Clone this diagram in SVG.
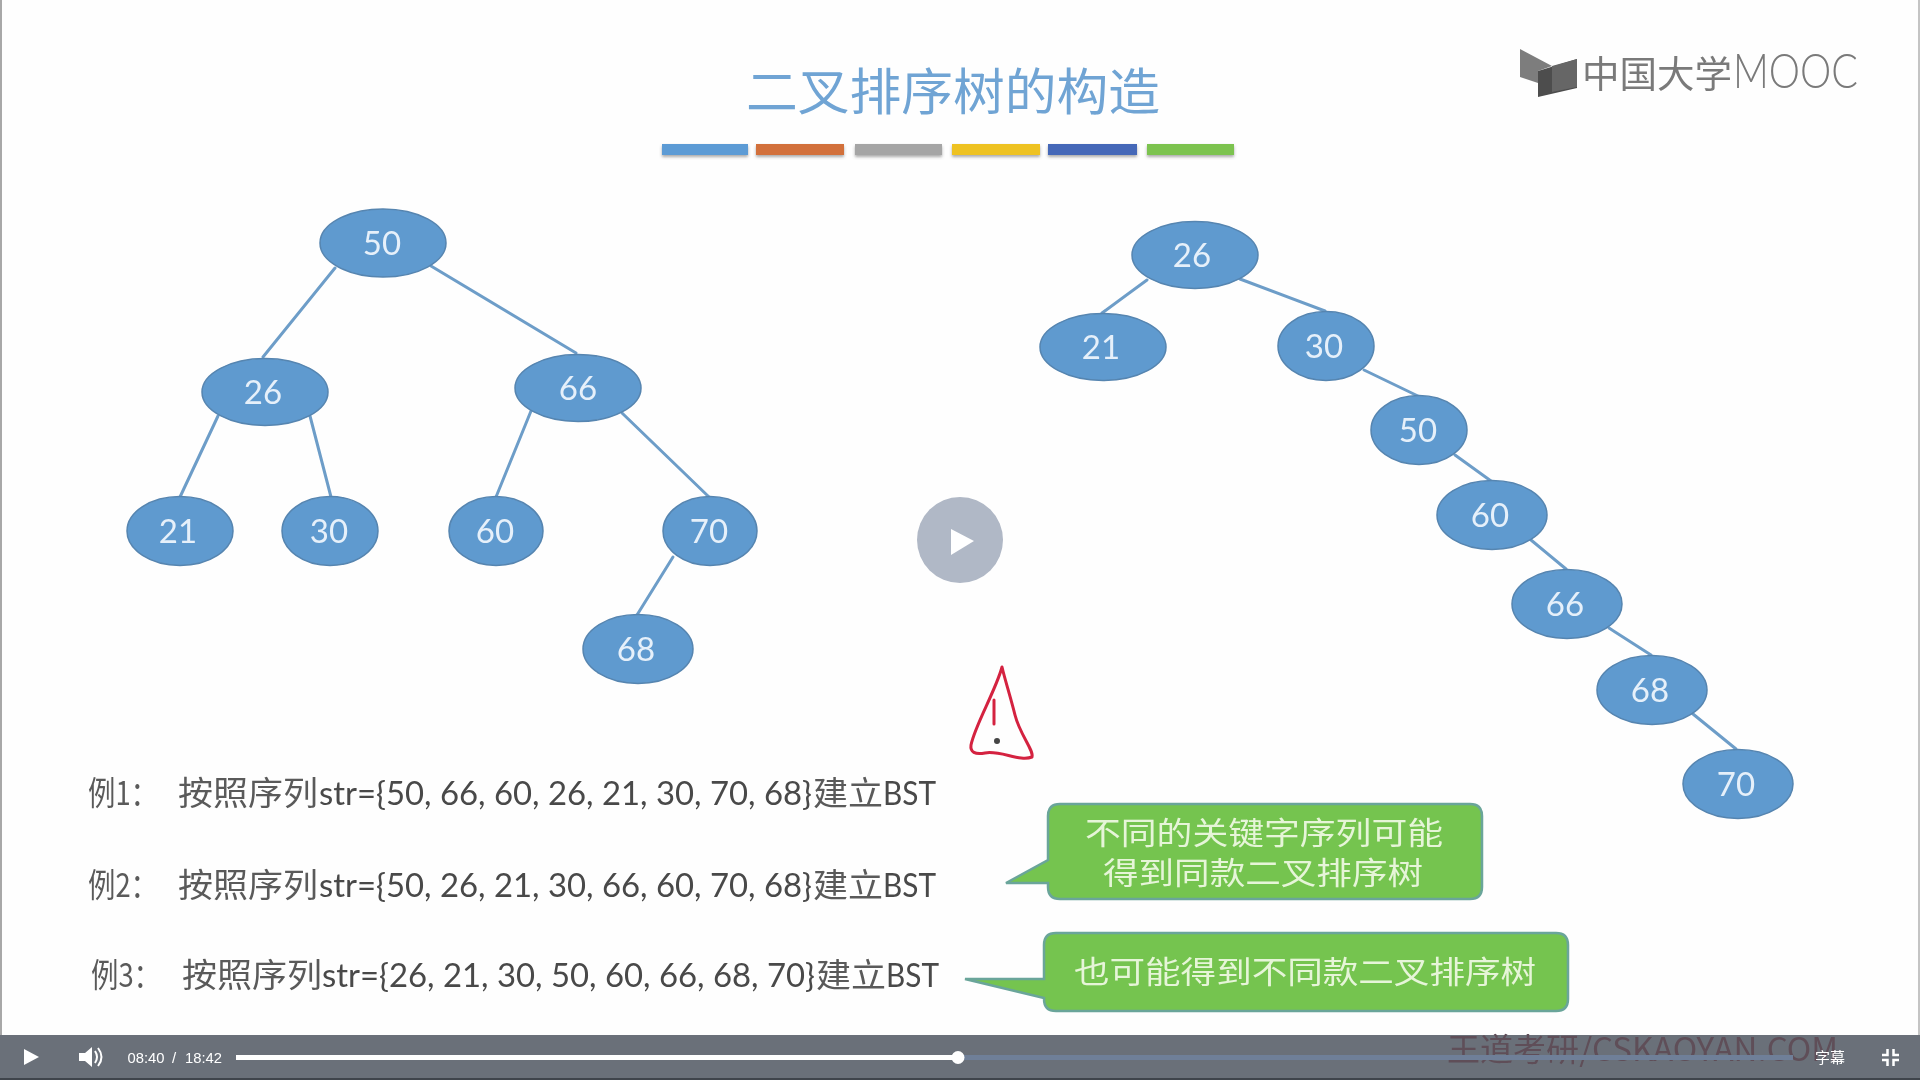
<svg xmlns="http://www.w3.org/2000/svg" width="1920" height="1080" viewBox="0 0 1920 1080">
<style>
.n ellipse{fill:#5f9acf;stroke:#5685b0;stroke-width:1.500}
.n text{font-family:"Lato","Noto Sans",sans-serif;font-size:33px;fill:#e6f0fa;text-anchor:middle}
#connectors line{stroke:#6d9dc8;stroke-width:3;stroke-linecap:round}
.ex{font-family:"Lato","Noto Sans CJK SC",sans-serif;font-size:32px;fill:#484848}
.cjk{font-family:"Noto Sans CJK SC",sans-serif;font-size:33px;fill:#5a5a5a}
.co path{fill:#75c44f;stroke:#6aa59a;stroke-width:2.500}
.co text{font-family:"Noto Sans CJK SC",sans-serif;font-size:31px;fill:#e6f5d8}
.pt{font-family:"Liberation Sans",sans-serif;font-size:15px;fill:#ffffff}
</style>
<defs>
<filter id="soft" x="-2%" y="-2%" width="104%" height="104%"><feGaussianBlur stdDeviation="0.6"/></filter>
<filter id="sh" x="-5%" y="-30%" width="110%" height="180%"><feDropShadow dx="0" dy="2" stdDeviation="1.500" flood-color="#555555" flood-opacity="0.5"/></filter>
</defs>
<rect width="1920" height="1080" fill="#fefefe"/>
<g filter="url(#soft)">
<text id="title" x="746" y="110" textLength="414" lengthAdjust="spacingAndGlyphs" font-family="Noto Sans CJK SC, sans-serif" font-size="50" fill="#6fa4d4">二叉排序树的构造</text>
<g id="rule" filter="url(#sh)">
<rect x="662" y="144" width="86" height="11" fill="#5b9bd5"/>
<rect x="756" y="144" width="88" height="11" fill="#d2703a"/>
<rect x="855" y="144" width="87" height="11" fill="#a5a5a5"/>
<rect x="952" y="144" width="88" height="11" fill="#eec224"/>
<rect x="1048" y="144" width="89" height="11" fill="#4468b8"/>
<rect x="1147" y="144" width="87" height="11" fill="#7cc34f"/>
</g>
<g id="logo">
<path d="M1520 49 L1552 66 L1538 71 V83 L1520 77Z" fill="#7d7d7d"/>
<path d="M1538 71 L1577 59 V88 L1538 97Z" fill="#4d4d4d"/>
<path d="M1552 66 L1577 59 V87 L1552 92Z" fill="#666666"/>
<text y="88" fill="#7a7a7a"><tspan x="1582" textLength="150" lengthAdjust="spacingAndGlyphs" font-family="Noto Sans CJK SC, sans-serif" font-size="37">中国大学</tspan><tspan x="1733" textLength="125" lengthAdjust="spacingAndGlyphs" font-family="Lato, Noto Sans, sans-serif" font-weight="300" font-size="47">MOOC</tspan></text>
</g>
<g id="connectors">
<line x1="335" y1="268" x2="263" y2="357"/>
<line x1="431" y1="266" x2="576" y2="353"/>
<line x1="218" y1="416" x2="180" y2="497"/>
<line x1="310" y1="416" x2="331" y2="497"/>
<line x1="531" y1="411" x2="496" y2="497"/>
<line x1="622" y1="413" x2="709" y2="497"/>
<line x1="673" y1="557" x2="637" y2="615"/>
<line x1="1147" y1="280" x2="1102" y2="313"/>
<line x1="1240" y1="279" x2="1325" y2="311"/>
<line x1="1364" y1="370" x2="1420" y2="397"/>
<line x1="1455" y1="455" x2="1491" y2="481"/>
<line x1="1531" y1="540" x2="1566" y2="569"/>
<line x1="1609" y1="628" x2="1651" y2="655"/>
<line x1="1693" y1="714" x2="1736" y2="749"/>
</g>
<g id="a50" class="n"><ellipse cx="383" cy="243" rx="63" ry="34"/><text x="382" y="255">50</text></g>
<g id="a26" class="n"><ellipse cx="265" cy="392" rx="63" ry="33.500"/><text x="263" y="404">26</text></g>
<g id="a66" class="n"><ellipse cx="578" cy="388" rx="63" ry="33.500"/><text x="578" y="400">66</text></g>
<g id="a21" class="n"><ellipse cx="180" cy="531" rx="53" ry="34.500"/><text x="178" y="543">21</text></g>
<g id="a30" class="n"><ellipse cx="330" cy="531" rx="48" ry="34.500"/><text x="329" y="543">30</text></g>
<g id="a60" class="n"><ellipse cx="496" cy="531" rx="47" ry="34.500"/><text x="495" y="543">60</text></g>
<g id="a70" class="n"><ellipse cx="710" cy="531" rx="47" ry="34.500"/><text x="709" y="543">70</text></g>
<g id="a68" class="n"><ellipse cx="638" cy="649" rx="55" ry="34.500"/><text x="636" y="661">68</text></g>
<g id="b26" class="n"><ellipse cx="1195" cy="255" rx="63" ry="33.500"/><text x="1192" y="267">26</text></g>
<g id="b21" class="n"><ellipse cx="1103" cy="347" rx="63" ry="33.500"/><text x="1101" y="359">21</text></g>
<g id="b30" class="n"><ellipse cx="1326" cy="346" rx="48" ry="34.500"/><text x="1324" y="358">30</text></g>
<g id="b50" class="n"><ellipse cx="1419" cy="430" rx="48" ry="34.500"/><text x="1418" y="442">50</text></g>
<g id="b60" class="n"><ellipse cx="1492" cy="515" rx="55" ry="34.500"/><text x="1490" y="527">60</text></g>
<g id="b66" class="n"><ellipse cx="1567" cy="604" rx="55" ry="34.500"/><text x="1565" y="616">66</text></g>
<g id="b68" class="n"><ellipse cx="1652" cy="690" rx="55" ry="34.500"/><text x="1650" y="702">68</text></g>
<g id="b70" class="n"><ellipse cx="1738" cy="784" rx="55" ry="34.500"/><text x="1736" y="796">70</text></g>
<g id="examples">
<text class="ex" y="805"><tspan class="cjk" x="88" textLength="70" lengthAdjust="spacingAndGlyphs">例1：</tspan><tspan class="cjk" x="178" textLength="140" lengthAdjust="spacingAndGlyphs">按照序列</tspan><tspan x="319" textLength="493" lengthAdjust="spacingAndGlyphs">str={50, 66, 60, 26, 21, 30, 70, 68}</tspan><tspan class="cjk" x="813" textLength="70" lengthAdjust="spacingAndGlyphs">建立</tspan><tspan x="883" textLength="53" lengthAdjust="spacingAndGlyphs">BST</tspan></text>
<text class="ex" y="897"><tspan class="cjk" x="88" textLength="70" lengthAdjust="spacingAndGlyphs">例2：</tspan><tspan class="cjk" x="178" textLength="140" lengthAdjust="spacingAndGlyphs">按照序列</tspan><tspan x="319" textLength="493" lengthAdjust="spacingAndGlyphs">str={50, 26, 21, 30, 66, 60, 70, 68}</tspan><tspan class="cjk" x="813" textLength="70" lengthAdjust="spacingAndGlyphs">建立</tspan><tspan x="883" textLength="53" lengthAdjust="spacingAndGlyphs">BST</tspan></text>
<text class="ex" y="987"><tspan class="cjk" x="91" textLength="70" lengthAdjust="spacingAndGlyphs">例3：</tspan><tspan class="cjk" x="182" textLength="140" lengthAdjust="spacingAndGlyphs">按照序列</tspan><tspan x="322" textLength="493" lengthAdjust="spacingAndGlyphs">str={26, 21, 30, 50, 60, 66, 68, 70}</tspan><tspan class="cjk" x="816" textLength="70" lengthAdjust="spacingAndGlyphs">建立</tspan><tspan x="886" textLength="53" lengthAdjust="spacingAndGlyphs">BST</tspan></text>
</g>
<g id="callout1" class="co">
<path d="M1060 804 H1470 Q1482 804 1482 816 V887 Q1482 899 1470 899 H1060 Q1048 899 1048 887 V883 L1006 883 L1048 860 V816 Q1048 804 1060 804Z"/>
<text x="1085" y="844" textLength="358" lengthAdjust="spacingAndGlyphs">不同的关键字序列可能</text>
<text x="1103" y="884" textLength="320" lengthAdjust="spacingAndGlyphs">得到同款二叉排序树</text>
</g>
<g id="callout2" class="co">
<path d="M1056 933 H1556 Q1568 933 1568 945 V999 Q1568 1011 1556 1011 H1056 Q1044 1011 1044 999 V998 L965 979 L1044 979 V945 Q1044 933 1056 933Z"/>
<text x="1074" y="983" textLength="462" lengthAdjust="spacingAndGlyphs">也可能得到不同款二叉排序树</text>
</g>
<g id="warning" fill="none" stroke="#d4213f" stroke-width="3" stroke-linecap="round" stroke-linejoin="round">
<path d="M1002 667 C996 690 975 725 971 745 C970 752 975 755 985 753 C1000 750 1020 762 1032 757 C1034 750 1020 735 1015 715 C1010 695 1005 680 1002 667Z"/>
<path d="M994 700 L994 724"/>
<circle cx="997" cy="741" r="1.500" fill="#444444" stroke="#444444"/>
</g>
</g>
<g id="play-overlay">
<circle cx="960" cy="540" r="43" fill="#b0b8c6"/>
<path d="M951 529 L974 541 L951 555Z" fill="#ffffff"/>
</g>
<rect x="0" y="0" width="2" height="1080" fill="#a8a8a8"/>
<rect x="1918" y="0" width="2" height="1080" fill="#c4c4c4"/>
<g id="player">
<rect x="0" y="1035" width="1920" height="45" fill="#6a7079"/>
<rect x="0" y="1078" width="1920" height="2" fill="#3f444b"/>
<text x="1447" y="1061" textLength="391" lengthAdjust="spacingAndGlyphs" font-family="Noto Sans CJK SC, sans-serif" font-size="32" fill="#5f4e58">王道考研/CSKAOYAN.COM</text>
<path d="M24 1049 L39 1057 L24 1065Z" fill="#ffffff"/>
<path d="M79 1053 H85 L92 1047 V1067 L85 1061 H79Z" fill="#ffffff"/>
<path d="M95 1051 Q99 1057 95 1063 M98 1048 Q105 1057 98 1066" fill="none" stroke="#ffffff" stroke-width="2"/>
<text class="pt" x="127.500" y="1063" textLength="37" lengthAdjust="spacingAndGlyphs">08:40</text>
<text class="pt" x="172" y="1063">/</text>
<text class="pt" x="185" y="1063" textLength="37" lengthAdjust="spacingAndGlyphs">18:42</text>
<rect x="958" y="1055" width="835" height="5" fill="#6f7f98"/>
<rect x="236" y="1055" width="722" height="5" fill="#ffffff"/>
<circle cx="958" cy="1057.500" r="6.500" fill="#ffffff"/>
<text x="1815" y="1063" font-family="Noto Sans CJK SC, sans-serif" font-size="15" fill="#ffffff">字幕</text>
<path d="M1887.500 1049 V1055 H1882 M1893.500 1049 V1055 H1899 M1887.500 1066 V1060 H1882 M1893.500 1066 V1060 H1899" fill="none" stroke="#ffffff" stroke-width="2.500"/>
</g>
</svg>
